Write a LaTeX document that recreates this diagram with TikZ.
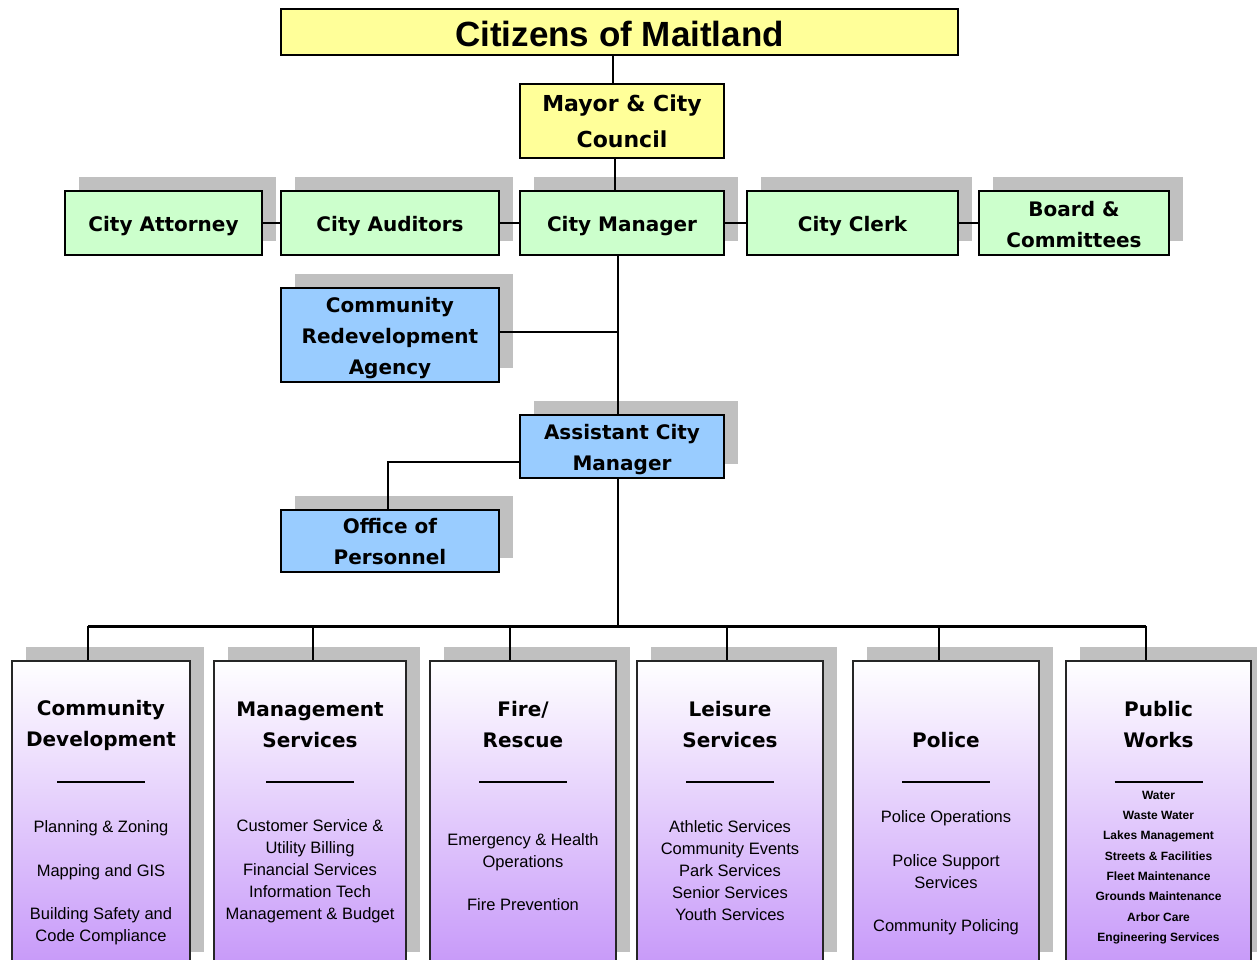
\documentclass[tikz,border=0pt]{standalone}
\usepackage{fontspec}
\setmainfont{Liberation Sans}
\newfontfamily\dvs{DejaVu Sans}
\usetikzlibrary{shadows,calc}
\definecolor{ylw}{RGB}{255,255,153}
\definecolor{grn}{RGB}{204,255,204}
\definecolor{blu}{RGB}{153,204,255}
\definecolor{shd}{RGB}{192,192,192}
\definecolor{prp}{RGB}{199,153,249}
\begin{document}
\begin{tikzpicture}[x=1pt,y=-1pt,
  topbox/.style={draw=black, line width=2.8pt, inner sep=0pt},
  lbl/.style={align=center, inner sep=0pt, font=\dvs\bfseries\fontsize{20}{31}\selectfont},
  shadowed/.style={general shadow={fill=shd, shadow xshift=14pt, shadow yshift=14pt}},
  greenbox/.style={topbox, fill=grn, minimum height=64pt, shadowed},
  bluebox/.style={topbox, fill=blu, minimum width=218pt, shadowed},
  dept/.style={draw=black!85, line width=2pt, top color=white, bottom color=prp,
    minimum height=305pt, anchor=north, inner sep=0pt, shadowed},
  depttitle/.style={align=center, inner sep=0pt, font=\dvs\bfseries\fontsize{20}{31}\selectfont},
  items/.style={align=center, inner sep=0pt, font=\fontsize{16.5}{22}\selectfont},
  pwitems/.style={align=center, inner sep=0pt, font=\bfseries\fontsize{12}{20.3}\selectfont},
  conn/.style={line width=2pt, black},
  sep/.style={line width=1.5pt, black}
]
\useasboundingbox (0,0) rectangle (1257,960);
\fill[white] (0,0) rectangle (1257,960);

% top
\node[topbox, fill=ylw, minimum width=677pt, minimum height=46pt,
  label={[lbl, font=\bfseries\fontsize{35}{40}\selectfont, yshift=-2pt]center:{Citizens of Maitland}}] (citizens) at (619.5,32) {};
\node[topbox, fill=ylw, minimum width=204pt, minimum height=74pt,
  label={[lbl, font=\dvs\bfseries\fontsize{22}{36}\selectfont]center:{Mayor \& City\\Council}}] (mayor) at (622,121) {};

% green row
\node[greenbox, minimum width=197pt, label={[lbl, yshift=-3pt]center:{City Attorney}}] (attorney) at (163.5,223) {};
\node[greenbox, minimum width=218pt, label={[lbl, yshift=-3pt]center:{City Auditors}}] (auditors) at (390,223) {};
\node[greenbox, minimum width=204pt, label={[lbl, yshift=-3pt]center:{City Manager}}] (manager) at (622,223) {};
\node[greenbox, minimum width=211pt, label={[lbl, yshift=-3pt]center:{City Clerk}}] (clerk) at (852.5,223) {};
\node[greenbox, minimum width=190pt, label={[lbl, yshift=-1.5pt]center:{Board \&\\Committees}}] (board) at (1074,223) {};

% blue boxes
\node[bluebox, minimum height=94pt, label={[lbl, yshift=-3pt]center:{Community\\Redevelopment\\Agency}}] (cra) at (390,335) {};
\node[bluebox, minimum width=204pt, minimum height=63pt, label={[lbl, yshift=-3.5pt]center:{Assistant City\\Manager}}] (acm) at (622,446.5) {};
\node[bluebox, minimum height=62pt, label={[lbl, yshift=-1pt]center:{Office of\\Personnel}}] (office) at (390,541) {};

% connectors top
\coordinate (c1) at (613,0);
\coordinate (c2) at (615,0);
\coordinate (spine) at (618,626);
\coordinate (j1) at (618,332);
\coordinate (k) at (388,462);
\draw[conn] (citizens.south -| c1) -- (mayor.north -| c1);
\draw[conn] (mayor.south -| c2) -- (manager.north -| c2);
\draw[conn] (attorney.east) -- (auditors.west);
\draw[conn] (auditors.east) -- (manager.west);
\draw[conn] (manager.east) -- (clerk.west);
\draw[conn] (clerk.east) -- (board.west);
\draw[conn] (manager.south -| spine) -- (acm.north -| spine);
\draw[conn] (cra.east |- j1) -- (j1);
\draw[conn] (acm.west |- k) -- (k) -- (k |- office.north);
\draw[conn] (acm.south -| spine) -- (spine);

% departments
\node[dept, minimum width=178pt] (cd) at (101,660) {};
\node[dept, minimum width=192pt] (ms) at (310,660) {};
\node[dept, minimum width=186pt] (fire) at (523,660) {};
\node[dept, minimum width=186pt] (leisure) at (730,660) {};
\node[dept, minimum width=186pt] (police) at (946,660) {};
\node[dept, minimum width=185pt] (pw) at (1158.5,660) {};

% bus and drops
\coordinate (d1) at (88,626);
\coordinate (d2) at (313,626);
\coordinate (d3) at (510,626);
\coordinate (d4) at (727,626);
\coordinate (d5) at (939,626);
\coordinate (d6) at (1146,626);
\draw[line width=3pt] (d1) -- (d6);
\draw[conn] (d1) -- (d1 |- cd.north);
\draw[conn] (d2) -- (d2 |- ms.north);
\draw[conn] (d3) -- (d3 |- fire.north);
\draw[conn] (d4) -- (d4 |- leisure.north);
\draw[conn] (d5) -- (d5 |- police.north);
\draw[conn] (d6) -- (d6 |- pw.north);

% titles
\node[depttitle] (cdt) at (101,725.5) {Community\\Development};
\node[depttitle] (mst) at (310,724.5) {Management\\Services};
\node[depttitle] (firet) at (523,724.5) {Fire/\\Rescue};
\node[depttitle] (leisuret) at (730,724.5) {Leisure\\Services};
\node[depttitle] (policet) at (946,740) {Police};
\node[depttitle] (pwt) at (1158.5,724.5) {Public\\Works};

% separators
\foreach \n in {cd,ms,fire,leisure,police,pw}{
  \draw[sep] ($(\n.north)+(-44,122)$) -- ($(\n.north)+(44,122)$);
}

% items
\node[items] (cdi) at (101,883) {Planning \& Zoning\\[22pt]Mapping and GIS\\[21pt]Building Safety and\\Code Compliance};
\node[items] (msi) at (310,871.5) {Customer Service \&\\Utility Billing\\Financial Services\\Information Tech\\Management \& Budget};
\node[items] (firei) at (523,872.5) {Emergency \& Health\\Operations\\[21pt]Fire Prevention};
\node[items] (leisurei) at (730,870.5) {Athletic Services\\Community Events\\Park Services\\Senior Services\\Youth Services};
\node[items] (policei) at (946,873) {Police Operations\\[22pt]Police Support\\Services\\[21pt]Community Policing};
\node[pwitems] (pwi) at (1158.5,867.5) {Water\\Waste Water\\Lakes Management\\Streets \& Facilities\\Fleet Maintenance\\Grounds Maintenance\\Arbor Care\\Engineering Services};
\end{tikzpicture}
\end{document}
